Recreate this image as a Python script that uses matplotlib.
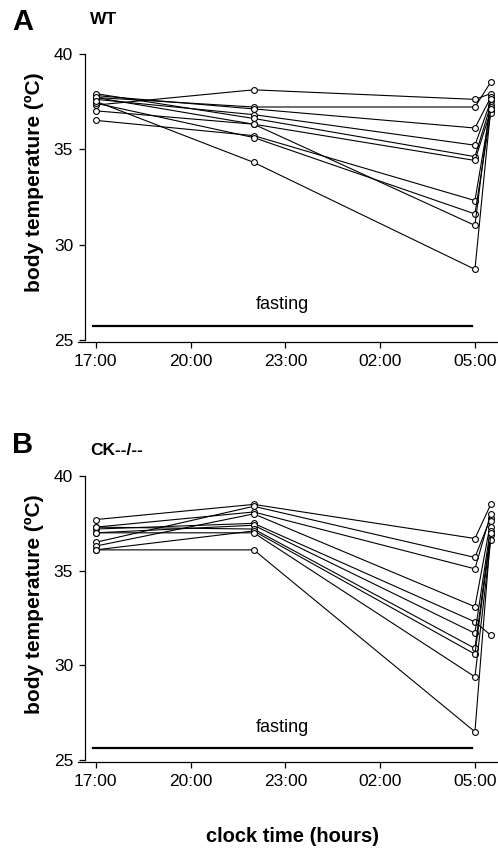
import matplotlib.pyplot as plt
import numpy as np

plt.rcParams['font.family'] = ['Liberation Sans', 'DejaVu Sans']

# sampling times, hours after 17:00 (17:00, 22:00, 05:00, ~05:30)
hours = [0, 5, 12, 12.5]
tick_hours = [0, 3, 6, 9, 12]
tick_labels = ['17:00', '20:00', '23:00', '02:00', '05:00']

# WT body temperature per animal (°C)
wt = [
    [37.3, 38.1, 37.6, 37.9],
    [37.7, 37.2, 37.2, 38.5],
    [37.8, 37.1, 36.1, 37.7],
    [37.6, 36.8, 35.2, 37.5],
    [37.9, 36.6, 34.6, 37.3],
    [37.0, 36.3, 34.4, 37.0],
    [36.5, 35.7, 32.3, 37.2],
    [37.4, 35.6, 31.6, 36.9],
    [37.7, 36.3, 31.0, 37.6],
    [37.5, 34.3, 28.7, 37.1],
]

# CK--/-- body temperature per animal (°C)
ck = [
    [37.7, 38.5, 36.7, 38.5],
    [36.5, 38.4, 35.7, 37.8],
    [37.3, 38.1, 35.1, 38.0],
    [36.3, 38.0, 33.1, 37.6],
    [37.2, 37.5, 32.3, 31.6],
    [37.0, 37.4, 31.7, 37.3],
    [37.3, 37.2, 30.9, 37.1],
    [36.1, 37.1, 30.6, 36.9],
    [37.0, 37.0, 29.4, 36.6],
    [36.1, 36.1, 26.5, 37.0],
]

W, H = 498, 855
fig = plt.figure(figsize=(W / 100, H / 100), dpi=100)


def px_axes(left, top, right, bottom):
    return fig.add_axes([left / W, 1 - bottom / H, (right - left) / W, (bottom - top) / H])


def draw_panel(ax, data, fast_y, text_y, label_y):
    for row in data:
        ax.plot(hours, row, color='black', lw=0.8, marker='o', ms=4.2,
                mfc='white', mec='black', mew=0.8, clip_on=False, zorder=3)
    ax.plot([-0.1, 11.9], [fast_y, fast_y], color='black', lw=1.6)
    ax.text(5.9, text_y, 'fasting', ha='center', va='center', fontsize=13)
    ax.set_xlim(-0.56, 12.73)
    ax.set_ylim(24.9, 40.3)
    ax.set_xticks(tick_hours)
    ax.set_xticklabels(tick_labels)
    ax.set_yticks([25, 30, 35, 40])
    ax.set_yticklabels(['25', '30', '35', '40'])
    ax.spines['top'].set_visible(False)
    ax.spines['right'].set_visible(False)
    ax.spines['left'].set_position(('data', -0.34))
    ax.spines['left'].set_bounds(25, 40)
    for s in ['left', 'bottom']:
        ax.spines[s].set_linewidth(0.9)
    ax.tick_params(axis='both', direction='out', length=4.5, width=0.9, pad=4, labelsize=12.5)
    ax.set_ylabel('body temperature (ºC)', fontsize=15, fontweight='bold')
    ax.yaxis.set_label_coords(-0.08, label_y)


ax_a = px_axes(78, 47.8, 498, 341.9)
draw_panel(ax_a, wt, 25.73, 26.85, 0.544)
ax_b = px_axes(78, 470.3, 498, 762.1)
draw_panel(ax_b, ck, 25.65, 26.75, 0.542)

fig.text(12 / W, 1 - 22 / H, 'A', fontsize=21, fontweight='bold', va='center', ha='left')
fig.text(90 / W, 1 - 20 / H, 'WT', fontsize=12.5, fontweight='bold', va='center', ha='left')
fig.text(12 / W, 1 - 445 / H, 'B', fontsize=21, fontweight='bold', va='center', ha='left')
fig.text(90 / W, 1 - 450 / H, 'CK--/--', fontsize=12.5, fontweight='bold', va='center', ha='left')
fig.text(293 / W, 1 - 836 / H, 'clock time (hours)', fontsize=14.5, fontweight='bold',
         va='center', ha='center')

fig.savefig('out.png', dpi=100)
